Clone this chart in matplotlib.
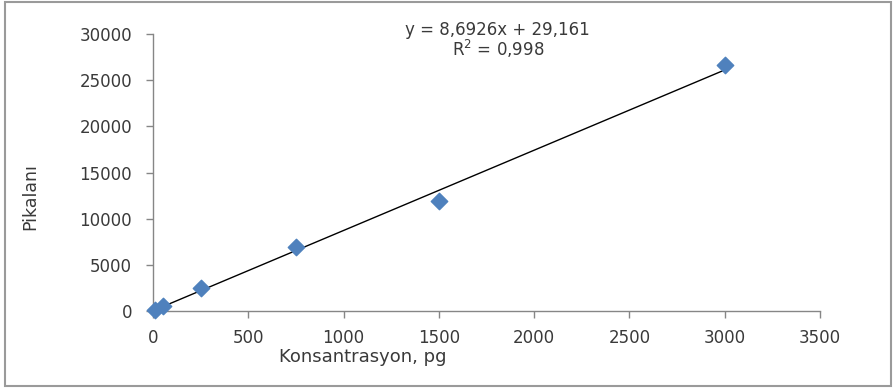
import matplotlib
matplotlib.use("Agg")
import matplotlib.pyplot as plt
from matplotlib.patches import Rectangle
import numpy as np

concentration = [12.5, 50, 250, 750, 1500, 3000]
peak_area = [150, 550, 2500, 6900, 11900, 26600]
slope = 8.6926
intercept = 29.161
x_ticks = [0, 500, 1000, 1500, 2000, 2500, 3000, 3500]
y_ticks = [0, 5000, 10000, 15000, 20000, 25000, 30000]

fig = plt.figure(figsize=(8.96, 3.92), dpi=100)
plt.rcParams['font.family'] = ['DejaVu Sans']
txt = '#3a3a3a'
axc = '#868686'

fig.patches.append(Rectangle((5/896, 1 - 386/392), 886/896, 384/392, transform=fig.transFigure,
                             fill=False, edgecolor='#9a9a9a', linewidth=1.5))

ax = fig.add_axes([153/896, 1 - 311/392, 667/896, 277/392])
ax.set_xlim(0, 3500)
ax.set_ylim(0, 30000)
ax.set_xticks(x_ticks)
ax.set_yticks(y_ticks)
for s in ['top', 'right']:
    ax.spines[s].set_visible(False)
for s in ['left', 'bottom']:
    ax.spines[s].set_color(axc)
    ax.spines[s].set_linewidth(1.0)
ax.tick_params(colors=axc, labelcolor=txt, labelsize=12, length=5, width=1, direction='out')
ax.tick_params(axis='y', pad=10)
ax.tick_params(axis='x', pad=8)

xl = np.array([0, max(concentration)])
ax.plot(xl, slope * xl + intercept, color='black', linewidth=1.0, zorder=2)
ax.scatter(concentration, peak_area, marker='D', s=70, color='#4F81BD', zorder=3, clip_on=False)

fig.text(363/896, 1 - 357/392, 'Konsantrasyon, pg', ha='center', va='center', fontsize=13, color=txt)
fig.text(30/896, 1 - 197/392, 'Pikalanı', ha='center', va='center', rotation=90, fontsize=12.5, color=txt)

fig.text(497/896, 1 - 30/392, 'y = 8,6926x + 29,161', ha='center', va='center', fontsize=12, color=txt)
fig.text(498/896, 1 - 49/392, 'R$^2$ = 0,998', ha='center', va='center', fontsize=12, color=txt)

fig.savefig('out.png', dpi=100)
